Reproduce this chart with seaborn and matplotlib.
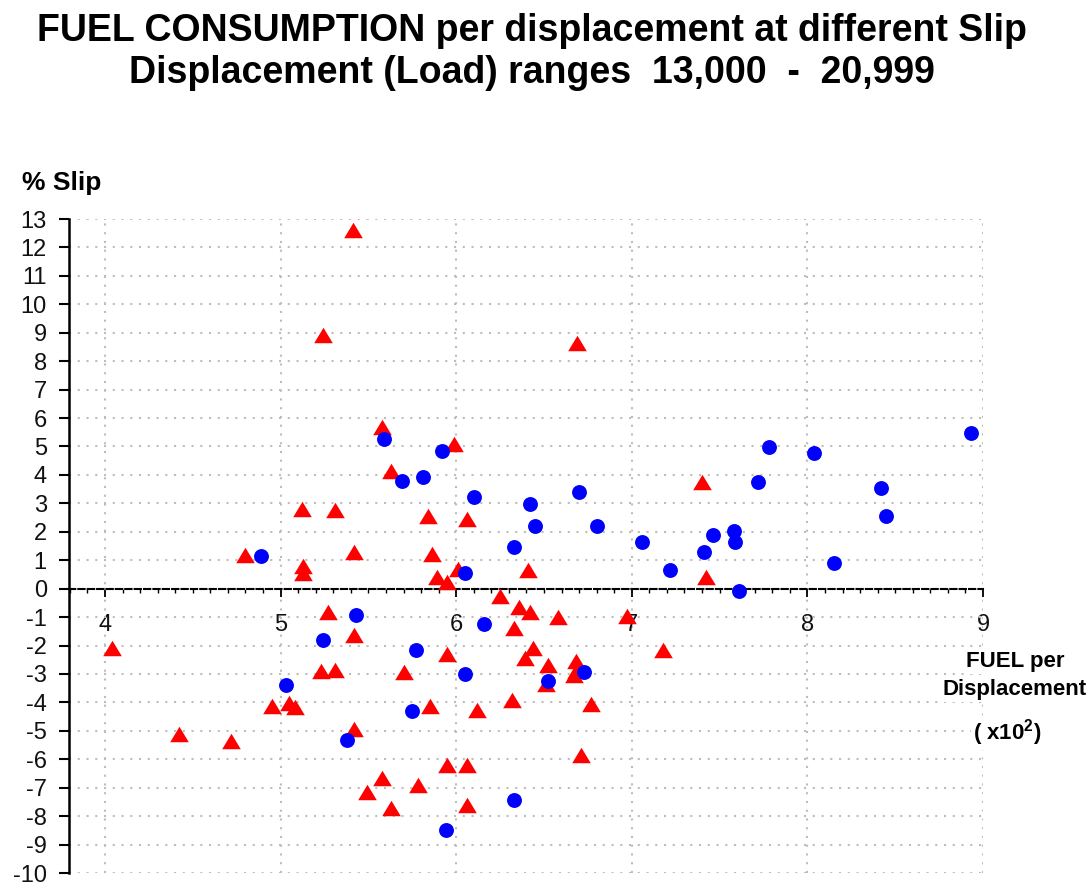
import matplotlib
matplotlib.use("Agg")
import matplotlib.pyplot as plt
import seaborn as sns
import pandas as pd
from matplotlib.ticker import MultipleLocator

# ---------------- data ----------------
red_x = [5.41, 5.24, 6.69, 5.58, 5.99, 5.63, 7.40, 5.12, 5.31, 5.84,
         6.06, 4.80, 5.42, 5.86, 5.13, 5.13, 6.41, 5.89, 5.95, 6.01,
         7.42, 6.25, 6.36, 6.42, 6.58, 6.97, 5.27, 5.42, 6.33, 6.44,
         5.95, 6.39, 7.18, 4.04, 6.52, 6.68, 6.68, 6.67, 5.23, 5.31,
         5.70, 6.51, 6.77, 6.32, 6.12, 5.85, 4.95, 5.05, 5.08, 5.42,
         4.42, 4.72, 6.71, 5.95, 6.06, 5.58, 5.49, 5.78, 5.63, 6.06]
red_y = [12.62, 8.92, 8.65, 5.67, 5.10, 4.13, 3.75, 2.80, 2.75, 2.54,
         2.45, 1.20, 1.30, 1.23, 0.80, 0.55, 0.67, 0.42, 0.22, 0.70,
         0.42, -0.27, -0.63, -0.82, -1.00, -0.95, -0.81, -1.63, -1.37, -2.10,
         -2.30, -2.45, -2.17, -2.10, -2.70, -2.55, -2.90, -3.05, -2.91, -2.87,
         -2.92, -3.35, -4.05, -3.90, -4.27, -4.12, -4.13, -4.03, -4.15, -4.94,
         -5.10, -5.36, -5.85, -6.20, -6.20, -6.65, -7.15, -6.90, -7.72, -7.60]

blue_x = [5.59, 5.92, 5.69, 5.81, 6.10, 6.42, 6.70, 6.45, 6.80, 6.33,
          7.06, 7.41, 7.46, 7.22, 6.05, 6.16, 5.77, 6.05, 6.52, 6.73,
          5.75, 6.33, 5.94, 4.89, 5.43, 5.24, 5.03, 5.38, 8.93, 7.78,
          8.04, 7.72, 8.42, 8.45, 7.58, 7.59, 8.15, 7.61]
blue_y = [5.25, 4.85, 3.78, 3.92, 3.22, 2.98, 3.40, 2.21, 2.21, 1.47,
          1.65, 1.28, 1.89, 0.67, 0.56, -1.26, -2.17, -3.01, -3.26, -2.93,
          -4.31, -7.43, -8.48, 1.16, -0.91, -1.82, -3.40, -5.32, 5.46, 4.97,
          4.76, 3.75, 3.54, 2.56, 2.03, 1.65, 0.91, -0.07]

x_ticks = [4, 5, 6, 7, 8, 9]
y_ticks = list(range(-10, 14))

title_lines = ["FUEL CONSUMPTION per displacement at different Slip",
               "Displacement (Load) ranges  13,000  -  20,999"]
y_label = "% Slip"
x_label_lines = ["FUEL per", "Displacement"]

# ---------------- style ----------------
sns.set_theme(style="white")
plt.rcParams['font.family'] = ['Liberation Sans', 'DejaVu Sans']
plt.rcParams['mathtext.fontset'] = 'custom'
plt.rcParams['mathtext.rm'] = 'Liberation Sans'
plt.rcParams['mathtext.bf'] = 'Liberation Sans:bold'

fig = plt.figure(figsize=(10.88, 8.84), dpi=100)
fig.patch.set_facecolor('white')
ax = fig.add_axes([69/1088, 11/884, (983-69)/1088, (873-219)/884])
ax.set_facecolor('white')

red_df = pd.DataFrame({"x": red_x, "y": red_y})
blue_df = pd.DataFrame({"x": blue_x, "y": blue_y})

tri = [(-1, -0.83), (1, -0.83), (0, 0.83)]
sns.scatterplot(data=red_df, x="x", y="y", ax=ax, color="#ff0000",
                marker=tri, s=180, linewidth=0, zorder=3)
sns.scatterplot(data=blue_df, x="x", y="y", ax=ax, color="#0000ff",
                marker="o", s=115, linewidth=0, zorder=4)

ax.set_xlim(3.795, 9)
ax.set_ylim(-10, 13)
ax.set_xlabel("")
ax.set_ylabel("")

ax.set_xticks(x_ticks)
ax.set_xticklabels([str(v) for v in x_ticks])
ax.xaxis.set_minor_locator(MultipleLocator(0.1))
ax.set_yticks(y_ticks)
ax.set_yticklabels([str(v) for v in y_ticks])

ax.grid(True, which='major', color='#bdbdbd', linestyle=(0, (1, 3.2)), linewidth=1.5)
ax.set_axisbelow(True)

for s in ['top', 'right']:
    ax.spines[s].set_visible(False)
ax.spines['left'].set_color('black')
ax.spines['left'].set_linewidth(1.8)
ax.spines['bottom'].set_position(('data', 0))
ax.spines['bottom'].set_color('black')
ax.spines['bottom'].set_linewidth(1.5)
ax.spines['bottom'].set_linestyle((0, (3, 1.5)))

ax.tick_params(axis='y', which='major', direction='out', length=7, width=1.5,
               color='black', labelsize=17, pad=9, labelcolor='#111111', left=True)
ax.tick_params(axis='x', which='major', direction='out', length=6, width=1.3,
               color='black', labelsize=17, pad=12, labelcolor='#111111', bottom=True)
ax.tick_params(axis='x', which='minor', direction='out', length=3, width=1.0,
               color='black', bottom=True)

# ---------------- texts ----------------
fig.text(532/1088, 1 - 31/884, title_lines[0], ha='center', va='center',
         fontsize=27, fontweight='bold', color='black')
fig.text(532/1088, 1 - 73/884, title_lines[1], ha='center', va='center',
         fontsize=27, fontweight='bold', color='black')

fig.text(22/1088, 1 - 183/884, y_label, ha='left', va='center',
         fontsize=19, fontweight='bold', color='black')

bbox = dict(facecolor='white', edgecolor='none', pad=1)
fig.text(1015/1088, 1 - 662/884, x_label_lines[0], ha='center', va='center',
         fontsize=16, fontweight='bold', color='black', bbox=bbox)
fig.text(1015/1088, 1 - 690/884, x_label_lines[1], ha='center', va='center',
         fontsize=16, fontweight='bold', color='black', bbox=bbox)
fig.text(1007/1088, 1 - 733/884, r"( x10$^{\mathbf{2}}$)", ha='center', va='center',
         fontsize=16, fontweight='bold', color='black', bbox=bbox)

fig.savefig("out.png", dpi=100, facecolor='white')
